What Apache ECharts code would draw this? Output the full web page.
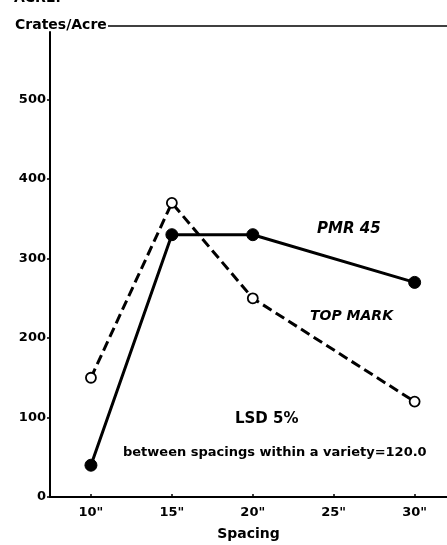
<!DOCTYPE html>
<html><head><meta charset="utf-8">
<script src="https://cdn.jsdelivr.net/npm/echarts@6/dist/echarts.min.js"></script>
<style>html,body{margin:0;padding:0;background:#fff}#c{width:447px;height:545px}</style>
</head><body><div id="c"></div>
<script>
const spacing = [10, 15, 20, 30];
const pmr45 = [40, 330, 330, 270];
const topMark = [150, 370, 250, 120];
const xTicks = [10, 15, 20, 25, 30];
const yTicks = [0, 100, 200, 300, 400, 500];
const xTickLabels = ['10"', '15"', '20"', '25"', '30"'];

const font = 'DejaVu Sans';
const chart = echarts.init(document.getElementById('c'), null, {renderer: 'canvas'});
chart.setOption({
  animation: false,
  backgroundColor: '#fff',
  grid: {left: 50, right: 0, top: 32, bottom: 48, containLabel: false, outerBoundsMode: 'none'},
  xAxis: {
    type: 'value', min: 7.47, max: 32,
    axisLine: {show: true, lineStyle: {color: '#000', width: 2}},
    axisTick: {show: true, inside: true, length: 3, customValues: xTicks, lineStyle: {color: '#000', width: 1.5}},
    axisLabel: {customValues: xTicks, color: '#000', fontFamily: font, fontWeight: 'bold', fontSize: 13, margin: 9,
      formatter: v => xTickLabels[xTicks.indexOf(v)] || ''},
    splitLine: {show: false},
    name: 'Spacing', nameLocation: 'middle', nameGap: 30,
    nameTextStyle: {color: '#000', fontFamily: font, fontWeight: 'bold', fontSize: 14}
  },
  yAxis: {
    type: 'value', min: 0, max: 585,
    axisLine: {show: true, lineStyle: {color: '#000', width: 2}},
    axisTick: {show: true, length: 3, customValues: yTicks, lineStyle: {color: '#000', width: 1.5}},
    axisLabel: {customValues: yTicks, color: '#000', fontFamily: font, fontWeight: 'bold', fontSize: 13, margin: 4},
    splitLine: {show: false}
  },
  series: [
    {
      name: 'PMR 45', type: 'line',
      data: spacing.map((s, i) => [s, pmr45[i]]),
      symbol: 'circle', symbolSize: 12,
      itemStyle: {color: '#000', borderColor: '#000'},
      lineStyle: {color: '#000', width: 3, type: 'solid'}
    },
    {
      name: 'TOP MARK', type: 'line',
      data: spacing.map((s, i) => [s, topMark[i]]),
      symbol: 'circle', symbolSize: 10,
      itemStyle: {color: '#fff', borderColor: '#000', borderWidth: 1.8},
      lineStyle: {color: '#000', width: 3, type: [10, 5]}
    }
  ],
  graphic: [
    {type: 'line', shape: {x1: 108, y1: 26, x2: 447, y2: 26}, style: {stroke: '#000', lineWidth: 1.5}},
    {type: 'text', left: 15, top: 18, style: {text: 'Crates/Acre', fill: '#000', font: 'bold 14px "DejaVu Sans"'}},
    {type: 'text', left: 14, top: -9, style: {text: 'ACRE.', fill: '#000', font: 'bold 14px "DejaVu Sans"'}},
    {type: 'text', left: 317, top: 222, style: {text: 'PMR 45', fill: '#000', font: 'italic bold 15px "DejaVu Sans"'}},
    {type: 'text', left: 310, top: 309, style: {text: 'TOP MARK', fill: '#000', font: 'italic bold 14px "DejaVu Sans"'}},
    {type: 'text', left: 235, top: 412, style: {text: 'LSD 5%', fill: '#000', font: 'bold 15px "DejaVu Sans"'}},
    {type: 'text', left: 123, top: 446, style: {text: 'between spacings within a variety=120.0', fill: '#000', font: 'bold 13px "DejaVu Sans"'}}
  ]
});
</script></body></html>
